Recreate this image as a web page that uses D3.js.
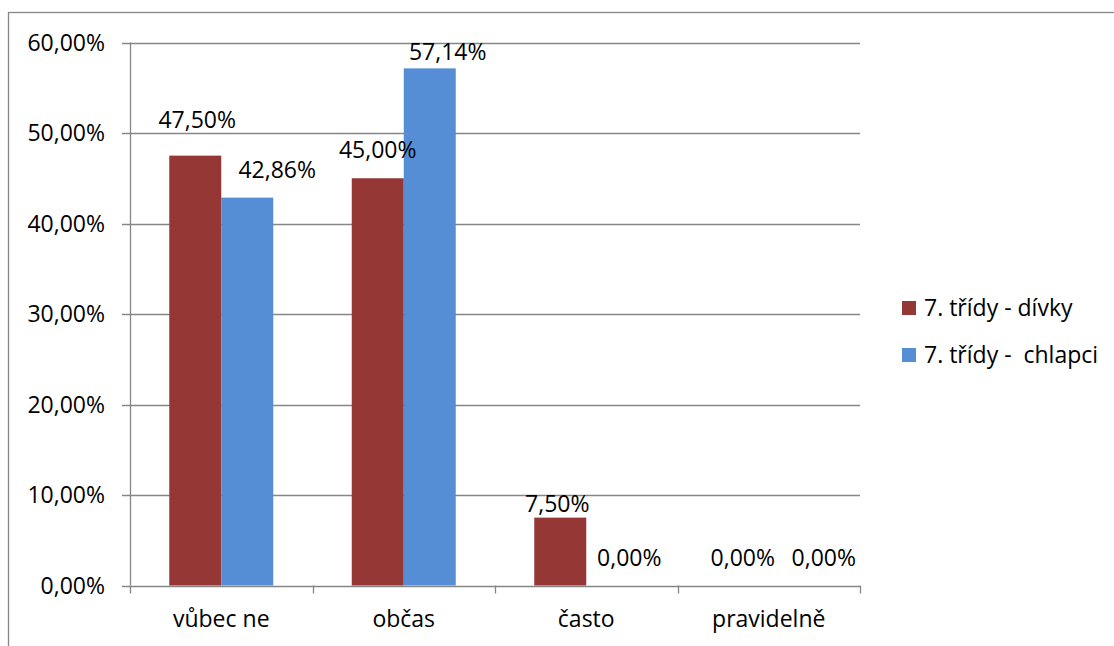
<!DOCTYPE html>
<html>
<head>
<meta charset="utf-8">
<script src="https://cdn.jsdelivr.net/npm/d3@7"></script>
<style>
  html, body { margin: 0; padding: 0; background: #fff; }
  svg { display: block; font-family: "Open Sans", sans-serif; }
  text { white-space: pre; }
</style>
</head>
<body>
<svg id="chart" width="1114" height="646"></svg>
<script>
// Survey answers, 7th grade, girls vs boys (share of respondents, %)
const categories = ["vůbec ne", "občas", "často", "pravidelně"];
const seriesNames = ["7. třídy - dívky", "7. třídy -  chlapci"];
const girls = [47.5, 45.0, 7.5, 0.0];
const boys = [42.86, 57.14, 0.0, 0.0];
const yTicks = [0, 10, 20, 30, 40, 50, 60];
const colors = ["#953735", "#558ED5"];

// label nudges so neighbouring value labels do not collide
const labelNudge = [
  [[2, -8], [30, 0]],
  [[0, 0], [18, 12]],
  [[-3, 14], [17, 0]],
  [[0, 0], [29, 0]]
];

const svg = d3.select("#chart");
const fmt = v => v.toFixed(2).replace(".", ",") + "%";

// frame
svg.append("rect")
  .attr("x", 8.5).attr("y", 12.5)
  .attr("width", 1200).attr("height", 700)
  .attr("fill", "none").attr("stroke", "#868686").attr("stroke-width", 1.3);

const plot = { left: 130, right: 860, top: 42.5, bottom: 585.5 };

const x = d3.scaleBand().domain(categories)
  .range([plot.left, plot.right]).paddingInner(0).paddingOuter(0);
const inner = d3.scaleBand().domain([0, 1])
  .range([0, x.bandwidth()]).paddingOuter(0.755).paddingInner(0);
const y = d3.scaleLinear().domain([0, 60]).range([plot.bottom, plot.top]);

// gridlines
svg.append("g").selectAll("line").data(yTicks).join("line")
  .attr("x1", plot.left - 8).attr("x2", plot.right)
  .attr("y1", d => Math.round(y(d)) + 0.5).attr("y2", d => Math.round(y(d)) + 0.5)
  .attr("stroke", "#868686").attr("stroke-width", 1.3);

// y axis line
svg.append("line")
  .attr("x1", plot.left + 0.5).attr("x2", plot.left + 0.5)
  .attr("y1", plot.top).attr("y2", plot.bottom)
  .attr("stroke", "#868686").attr("stroke-width", 1.3);

// y tick labels
svg.append("g").selectAll("text").data(yTicks).join("text")
  .attr("x", 105).attr("y", d => y(d) + 8)
  .attr("text-anchor", "end")
  .attr("font-size", 23).attr("fill", "#000")
  .text(d => fmt(d));

// category tick marks
const catEdges = categories.map(c => x(c)).concat([plot.right]);
svg.append("g").selectAll("line").data(catEdges).join("line")
  .attr("x1", d => Math.round(d) + 0.5).attr("x2", d => Math.round(d) + 0.5)
  .attr("y1", plot.bottom).attr("y2", plot.bottom + 8)
  .attr("stroke", "#868686").attr("stroke-width", 1.3);

// category labels
svg.append("g").selectAll("text").data(categories).join("text")
  .attr("x", d => x(d) + x.bandwidth() / 2).attr("y", 627)
  .attr("text-anchor", "middle")
  .attr("font-size", 23).attr("fill", "#000")
  .text(d => d);

// bars
const series = [girls, boys];
const bars = [];
categories.forEach((c, i) => {
  series.forEach((s, j) => bars.push({ c, i, j, v: s[i] }));
});

svg.append("g").selectAll("rect").data(bars).join("rect")
  .attr("x", d => x(d.c) + inner(d.j))
  .attr("width", inner.bandwidth())
  .attr("y", d => y(d.v))
  .attr("height", d => plot.bottom - y(d.v))
  .attr("fill", d => colors[d.j]);

// value labels
svg.append("g").selectAll("text").data(bars).join("text")
  .attr("x", d => x(d.c) + inner(d.j) + inner.bandwidth() / 2 + labelNudge[d.i][d.j][0])
  .attr("y", d => y(d.v) - 20 + labelNudge[d.i][d.j][1])
  .attr("text-anchor", "middle")
  .attr("font-size", 23).attr("fill", "#000")
  .text(d => fmt(d.v));

// legend
const legend = svg.append("g").selectAll("g").data(seriesNames).join("g")
  .attr("transform", (d, i) => `translate(902, ${301 + i * 47})`);
legend.append("rect")
  .attr("width", 14).attr("height", 14)
  .attr("fill", (d, i) => colors[i]);
legend.append("text")
  .attr("x", 22).attr("y", 15)
  .attr("font-size", 23).attr("fill", "#000")
  .text(d => d);
</script>
</body>
</html>
